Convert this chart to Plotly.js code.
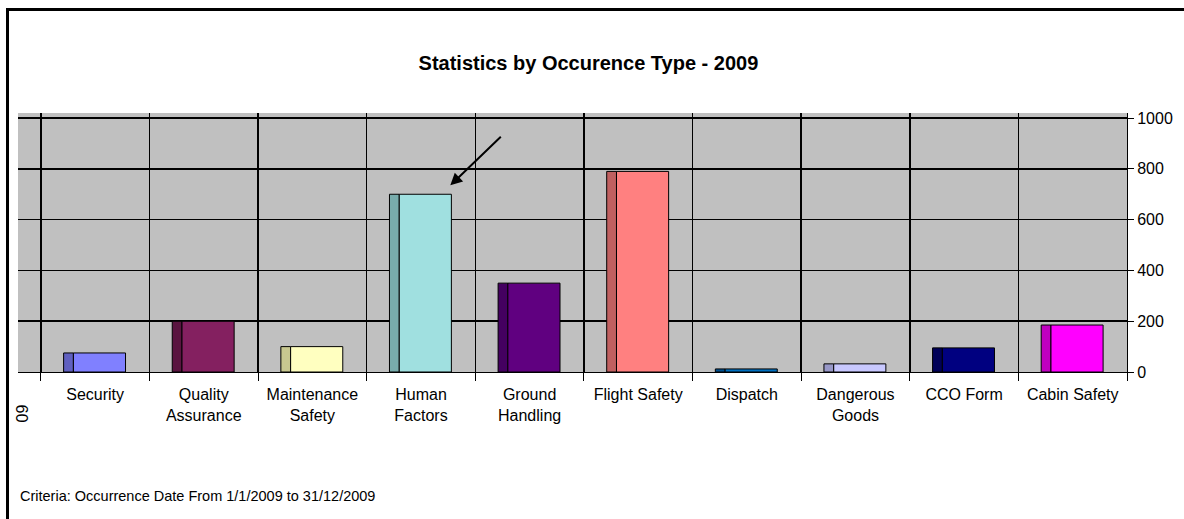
<!DOCTYPE html>
<html>
<head>
<meta charset="utf-8">
<script src="https://cdn.plot.ly/plotly-3.0.1.min.js"></script>
<style>
  html, body { margin: 0; padding: 0; background: #ffffff; overflow: hidden; }
  #chart { position: absolute; left: 0; top: 0; width: 1184px; height: 519px; }
</style>
</head>
<body>
<div id="chart"></div>
<script>
// ---- data ----
const categories = ["Security", "Quality Assurance", "Maintenance Safety", "Human Factors",
  "Ground Handling", "Flight Safety", "Dispatch", "Dangerous Goods", "CCO Form", "Cabin Safety"];
const tickLabels = ["Security", "Quality<br>Assurance", "Maintenance<br>Safety", "Human<br>Factors",
  "Ground<br>Handling", "Flight Safety", "Dispatch", "Dangerous<br>Goods", "CCO Form", "Cabin Safety"];
const counts = [75, 200, 100, 700, 350, 790, 12, 32, 95, 185];
const frontColors = ["#8080FF", "#842060", "#FFFFC0", "#A0E0E0", "#600080",
  "#FF8080", "#0070C0", "#C8C8FF", "#000080", "#FF00FF"];
const sideColors = ["#6060C0", "#5A1440", "#C8C890", "#78ACAC", "#440060",
  "#C06060", "#005090", "#9898C8", "#000058", "#C000C0"];
const yTicks = [0, 200, 400, 600, 800, 1000];
const chartTitle = "Statistics by Occurence Type - 2009";
const criteriaText = "Criteria: Occurrence Date From 1/1/2009 to 31/12/2009";
const cutLabel = "09";

const FONT = "Liberation Sans, Arial, sans-serif";

// page geometry (pixels) used for the outer frame
const W = 1184, H = 519;
const M = { l: 18, r: 57, t: 113, b: 147 };
const pw = W - M.l - M.r, ph = H - M.t - M.b;
const px2x = p => (p - M.l) / pw;
const px2y = p => (H - M.b - p) / ph;

const side = {
  type: "bar", x: categories, y: counts,
  width: 0.09, offset: -0.29,
  marker: { color: sideColors, line: { color: "#000", width: 1 } },
  hoverinfo: "skip", showlegend: false
};
const front = {
  type: "bar", x: categories, y: counts,
  width: 0.48, offset: -0.2,
  marker: { color: frontColors, line: { color: "#000", width: 1 } },
  showlegend: false
};

const layout = {
  width: W, height: H,
  margin: M,
  paper_bgcolor: "#ffffff",
  plot_bgcolor: "#C0C0C0",
  font: { family: FONT, size: 16, color: "#000" },
  title: {
    text: "<b>" + chartTitle + "</b>",
    font: { family: FONT, size: 20, color: "#000" },
    xref: "container", yref: "container", x: 0.497, y: 0.879,
    xanchor: "center", yanchor: "middle"
  },
  bargap: 0,
  xaxis: {
    type: "category",
    range: [-0.71, 9.5],
    tickvals: categories, ticktext: tickLabels,
    tickson: "boundaries",
    ticks: "outside", ticklen: 8, tickcolor: "#000", tickwidth: 1,
    ticklabelstandoff: 8,
    showline: true, linecolor: "#000", linewidth: 1,
    showgrid: true, gridcolor: "#000", gridwidth: 1.5,
    tickfont: { family: FONT, size: 16, color: "#000" },
    tickangle: 0, fixedrange: true
  },
  yaxis: {
    side: "right",
    range: [0, 1020],
    tickvals: yTicks,
    ticks: "outside", ticklen: 6, tickcolor: "#000",
    showline: true, linecolor: "#000", linewidth: 1,
    showgrid: true, gridcolor: "#000", gridwidth: 1.5,
    zeroline: false,
    tickfont: { family: FONT, size: 16, color: "#000" },
    fixedrange: true
  },
  shapes: [
    { type: "line", xref: "paper", yref: "paper", layer: "above",
      x0: px2x(7.5), x1: px2x(7.5), y0: px2y(8), y1: px2y(H + 5),
      line: { color: "#000", width: 3 } },
    { type: "line", xref: "paper", yref: "paper", layer: "above",
      x0: px2x(6), x1: px2x(W + 5), y0: px2y(9.5), y1: px2y(9.5),
      line: { color: "#000", width: 3 } }
  ],
  annotations: [
    {
      xref: "paper", yref: "paper", x: 0, y: -0.479,
      xanchor: "left", yanchor: "middle", showarrow: false,
      text: criteriaText, font: { family: FONT, size: 14.5, color: "#000" }
    },
    {
      xref: "paper", yref: "paper", x: 0.0036, y: -0.16,
      xanchor: "center", yanchor: "middle", showarrow: false,
      text: cutLabel, textangle: -90, font: { family: FONT, size: 16, color: "#000" }
    },
    {
      xref: "x", yref: "y", x: 3.27, y: 735,
      text: "", showarrow: true, arrowhead: 2, arrowsize: 1.2, arrowwidth: 2,
      arrowcolor: "#000", ax: 52, ay: -50
    }
  ]
};

Plotly.newPlot("chart", [side, front], layout, { displayModeBar: false, staticPlot: true });
</script>
</body>
</html>
